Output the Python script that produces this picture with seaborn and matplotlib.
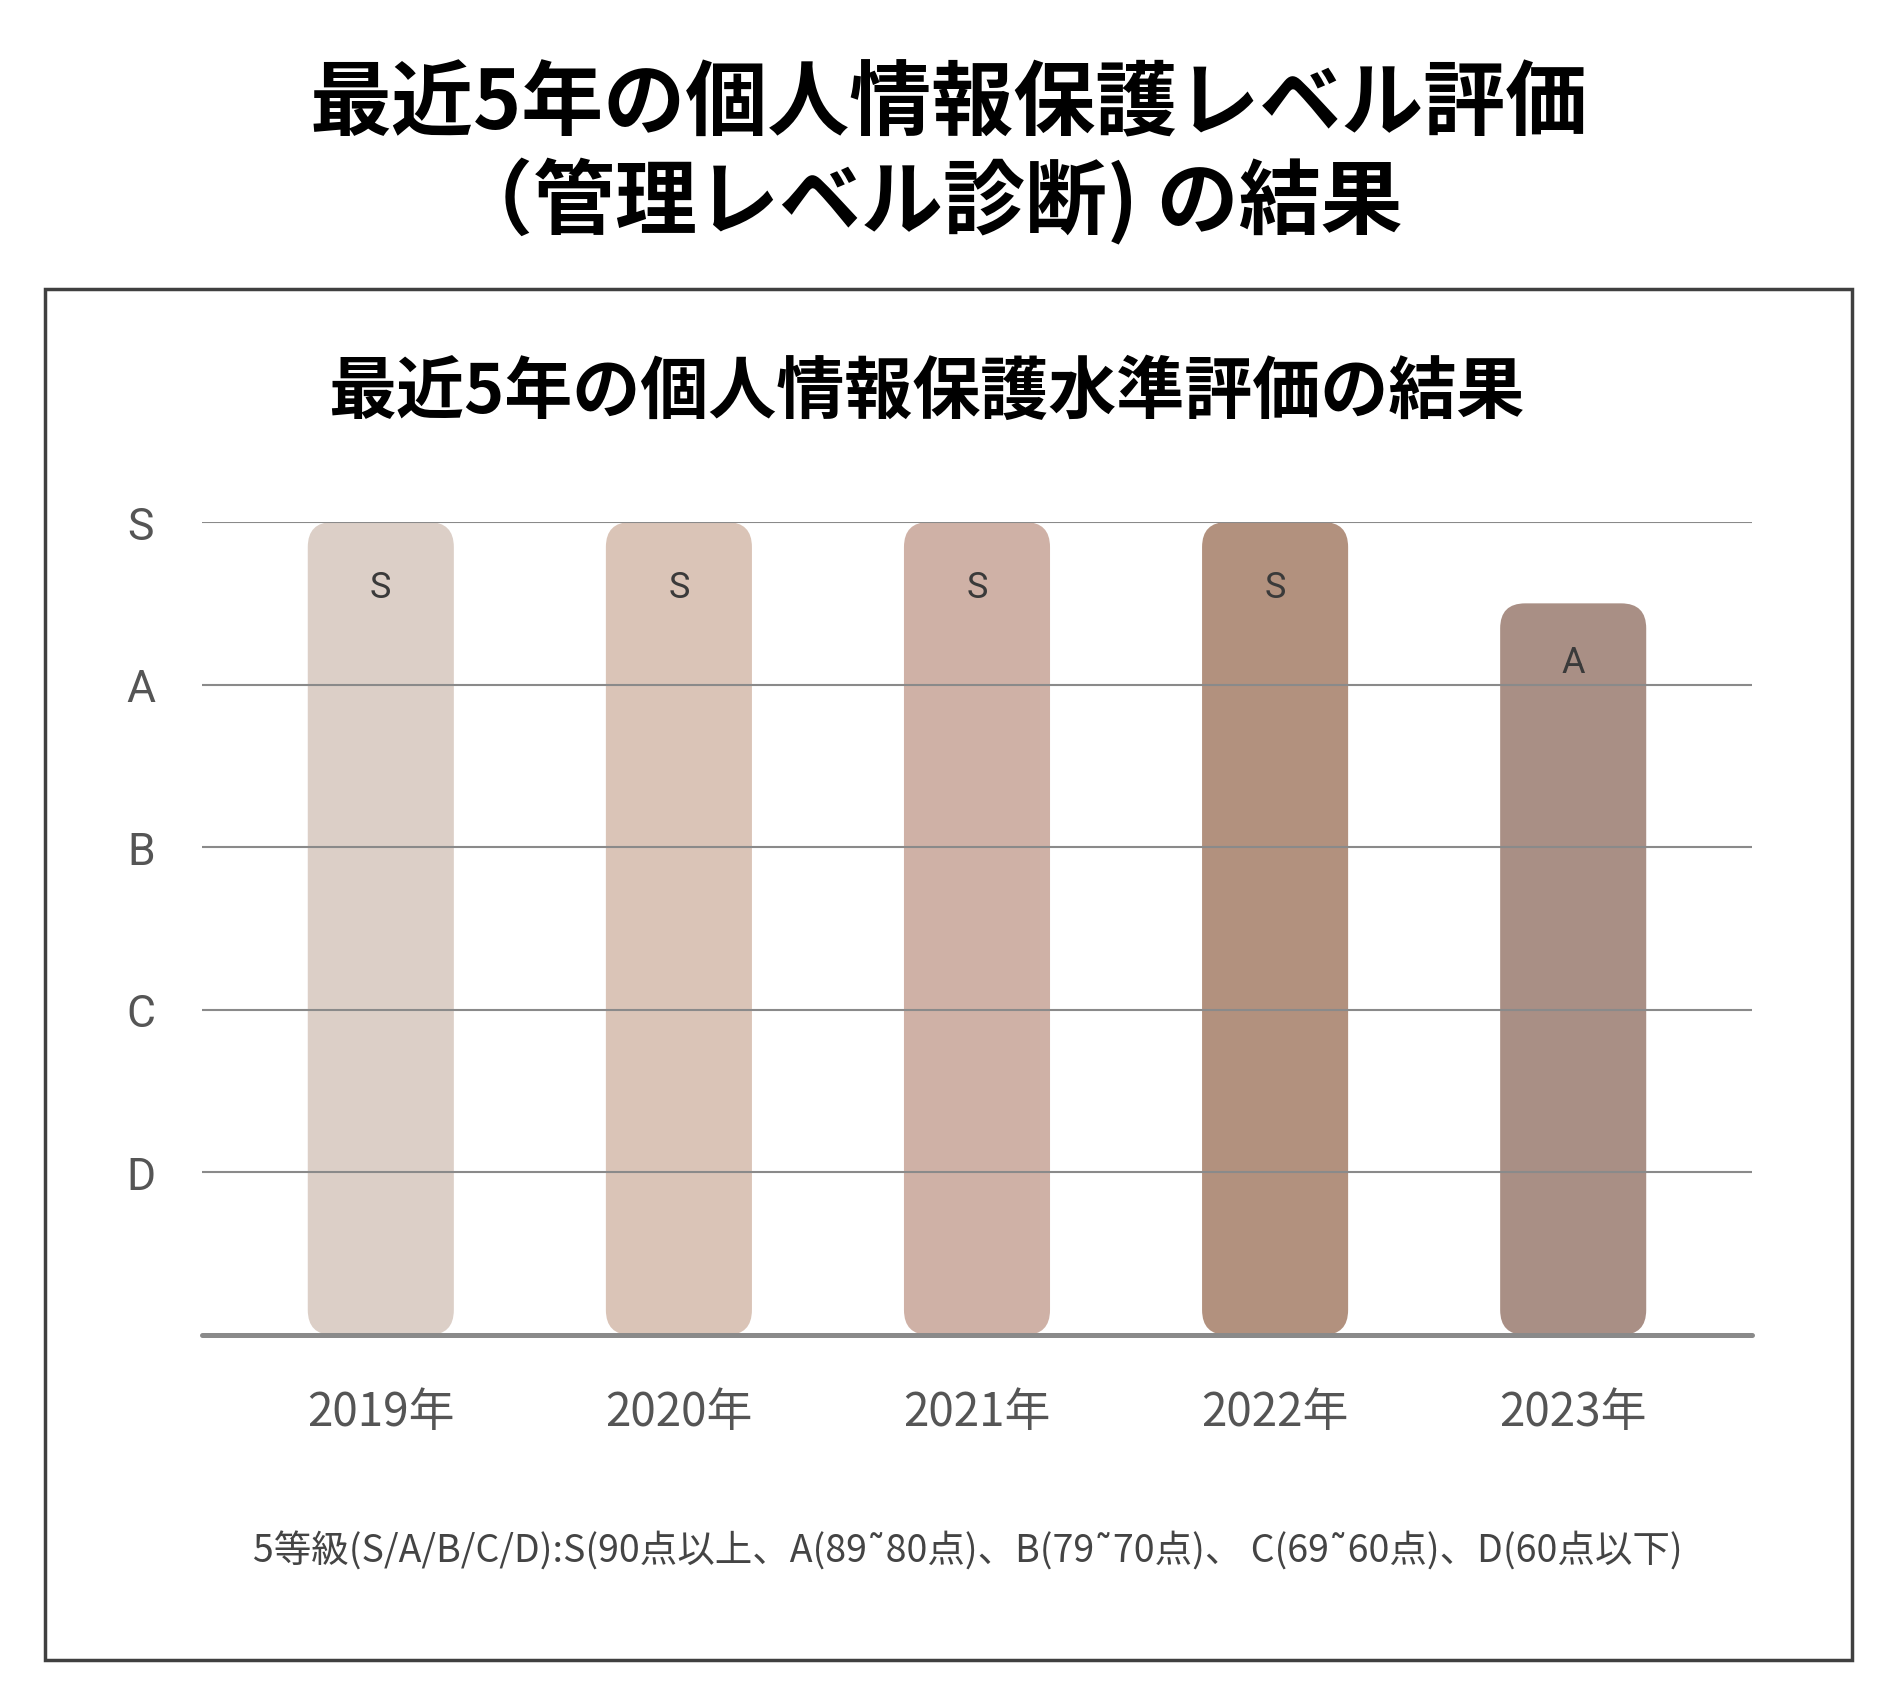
import matplotlib
matplotlib.use("Agg")
import matplotlib.pyplot as plt
import seaborn as sns
import pandas as pd
from matplotlib.patches import FancyBboxPatch, Rectangle

# ---- data ----
years = ["2019年", "2020年", "2021年", "2022年", "2023年"]
grades = ["S", "S", "S", "S", "A"]
scores = [5.0, 5.0, 5.0, 5.0, 4.5]
grade_tick_values = [1, 2, 3, 4, 5]
grade_tick_labels = ["D", "C", "B", "A", "S"]
colors = ["#DCCFC7", "#DAC4B7", "#CFB1A6", "#B2917E", "#A98F85"]

title_lines = ["最近5年の個人情報保護レベル評価", "（管理レベル診断) の結果"]
inner_title = "最近5年の個人情報保護水準評価の結果"
footnote = "5等級(S/A/B/C/D):S(90点以上、A(89˜80点)、B(79˜70点)、 C(69˜60点)、D(60点以下)"

sns.set_style("white")
plt.rcParams["font.family"] = ["Noto Sans CJK JP", "DejaVu Sans"]

W, H = 1898, 1706
fig = plt.figure(figsize=(W / 100, H / 100), dpi=100)
fig.patch.set_facecolor("white")

ax_l, ax_b, ax_w, ax_h = 0.1064, 0.2169, 0.8167, 0.4765
ax = fig.add_axes([ax_l, ax_b, ax_w, ax_h])

df = pd.DataFrame({"year": years, "score": scores, "grade": grades})
sns.barplot(data=df, x="year", y="score", hue="year", palette=colors,
            width=0.49, legend=False, ax=ax, saturation=1)

x_lo, x_hi, y_lo, y_hi = -0.6, 4.6, 0, 5
ax.set_xlim(x_lo, x_hi)
ax.set_ylim(y_lo, y_hi)

px_per_x = ax_w * W / (x_hi - x_lo)
px_per_y = ax_h * H / (y_hi - y_lo)
aspect = px_per_x / px_per_y
r_px = 25
r_x = r_px / px_per_x

for p, g in zip(list(ax.patches), grades):
    x, w, h = p.get_x(), p.get_width(), p.get_height()
    fc = p.get_facecolor()
    p.remove()
    fb = FancyBboxPatch((x, 0), w, h,
                        boxstyle=f"round,pad=0,rounding_size={r_x}",
                        mutation_aspect=aspect, fc=fc, ec="none", zorder=2)
    ax.add_patch(fb)
    ax.text(x + w / 2, h * 0.92, g, ha="center", va="center",
            fontsize=26, color="#3a3a3a", family=["Roboto", "DejaVu Sans"], zorder=5)

for v in grade_tick_values:
    ax.axhline(v, color="#8a8a8a", lw=1.5, zorder=3)
ax.axhline(0, color="#8a8a8a", lw=3.6, zorder=4, clip_on=False)

for s in ax.spines.values():
    s.set_visible(False)

ax.set_yticks(grade_tick_values)
ax.set_yticklabels(grade_tick_labels)
ax.tick_params(axis="y", length=0, pad=44, labelsize=32, labelcolor="#555555")
for t in ax.get_yticklabels():
    t.set_ha("center")
    t.set_family(["Roboto", "DejaVu Sans"])
ax.tick_params(axis="x", length=0, pad=38, labelsize=33, labelcolor="#555555")
ax.set_xlabel("")
ax.set_ylabel("")

# titles
fig.text(0.5, 1 - 106 / H, title_lines[0], ha="center", va="center",
         fontsize=59, fontweight="bold", color="black")
fig.text(451 / W, 1 - 203 / H, title_lines[1], ha="left", va="center",
         fontsize=59, fontweight="bold", color="black")
fig.text(0.488, 1 - 393 / H, inner_title, ha="center", va="center",
         fontsize=49, fontweight="bold", color="black")
fig.text(0.51, 1 - 1552 / H, footnote, ha="center", va="center",
         fontsize=27, color="#444444")

# frame
fig.add_artist(Rectangle((45 / W, 1 - 1661 / H), (1852 - 45) / W, (1661 - 290) / H,
                         transform=fig.transFigure, fill=False, ec="#404040", lw=2.5))

fig.savefig("out.png", dpi=100, facecolor="white")
